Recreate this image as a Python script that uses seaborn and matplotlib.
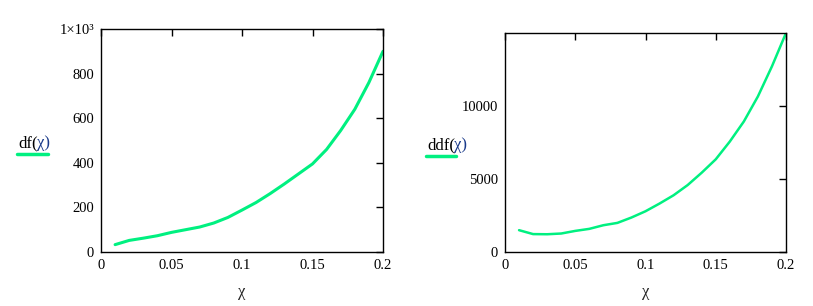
import numpy as np
import pandas as pd
import matplotlib
matplotlib.use("Agg")
import matplotlib.pyplot as plt
from matplotlib.lines import Line2D
import seaborn as sns

chi = [0.01, 0.02, 0.03, 0.04, 0.05, 0.06, 0.07, 0.08, 0.09, 0.10,
       0.11, 0.12, 0.13, 0.14, 0.15, 0.16, 0.17, 0.18, 0.19, 0.20]
df_vals = [33, 52, 62, 73, 88, 100, 112, 130, 155, 188,
           222, 262, 305, 350, 395, 460, 545, 640, 760, 900]
ddf_vals = [1500, 1230, 1220, 1270, 1450, 1590, 1840, 2000, 2370, 2800,
            3330, 3900, 4600, 5450, 6370, 7590, 8970, 10690, 12760, 15050]

left_yticks = [0, 200, 400, 600, 800, 1000]
left_yticklabels = ["0", "200", "400", "600", "800", "1×10³"]
right_yticks = [0, 5000, 10000]
xticks = [0, 0.05, 0.1, 0.15, 0.2]
xticklabels = ["0", "0.05", "0.1", "0.15", "0.2"]

sns.set_style("white")
plt.rcParams['font.family'] = ['Liberation Serif', 'DejaVu Serif']

green = "#00F080"
fig = plt.figure(figsize=(8.13, 3.06), dpi=100)
ax1 = fig.add_axes([101/813, 54/306, 282/813, 223/306])
ax2 = fig.add_axes([505/813, 54/306, 281/813, 219/306])

data = pd.DataFrame({"chi": chi, "df": df_vals, "ddf": ddf_vals})
sns.lineplot(data=data, x="chi", y="df", ax=ax1, color=green, linewidth=2.2)
sns.lineplot(data=data, x="chi", y="ddf", ax=ax2, color=green, linewidth=1.8)

for ax in (ax1, ax2):
    ax.set_xlim(0, 0.2)
    ax.set_xticks(xticks)
    ax.set_xticklabels(xticklabels)
    ax.tick_params(direction="in", top=True, right=True, length=5, width=1,
                   labelsize=10.5, colors="black", pad=5)
    for s in ax.spines.values():
        s.set_color("black")
        s.set_linewidth(1)
    ax.set_xlabel("χ", fontsize=12, labelpad=9)
    ax.set_ylabel("")

ax1.set_ylim(0, 1000)
ax1.set_yticks(left_yticks)
ax1.set_yticklabels(left_yticklabels)
ax2.set_ylim(0, 15050)
ax2.set_yticks(right_yticks)
ax2.set_yticklabels([str(v) for v in right_yticks])

# legend-like labels at the left of each plot
fig.text(18/813, 1 - 143/306, "df(", fontsize=12, va="center", ha="left", color="black")
fig.text(37/813, 1 - 143/306, "χ)", fontsize=12, va="center", ha="left", color="#1a3a8a")
fig.add_artist(Line2D([17/813, 48/813], [1 - 154/306, 1 - 154/306], color=green, linewidth=2.5,
                      transform=fig.transFigure))
fig.text(427/813, 1 - 145/306, "ddf(", fontsize=12, va="center", ha="left", color="black")
fig.text(454/813, 1 - 145/306, "χ)", fontsize=12, va="center", ha="left", color="#1a3a8a")
fig.add_artist(Line2D([426/813, 456/813], [1 - 156/306, 1 - 156/306], color=green, linewidth=2.5,
                      transform=fig.transFigure))

fig.savefig("out.png", dpi=100, facecolor="white")
